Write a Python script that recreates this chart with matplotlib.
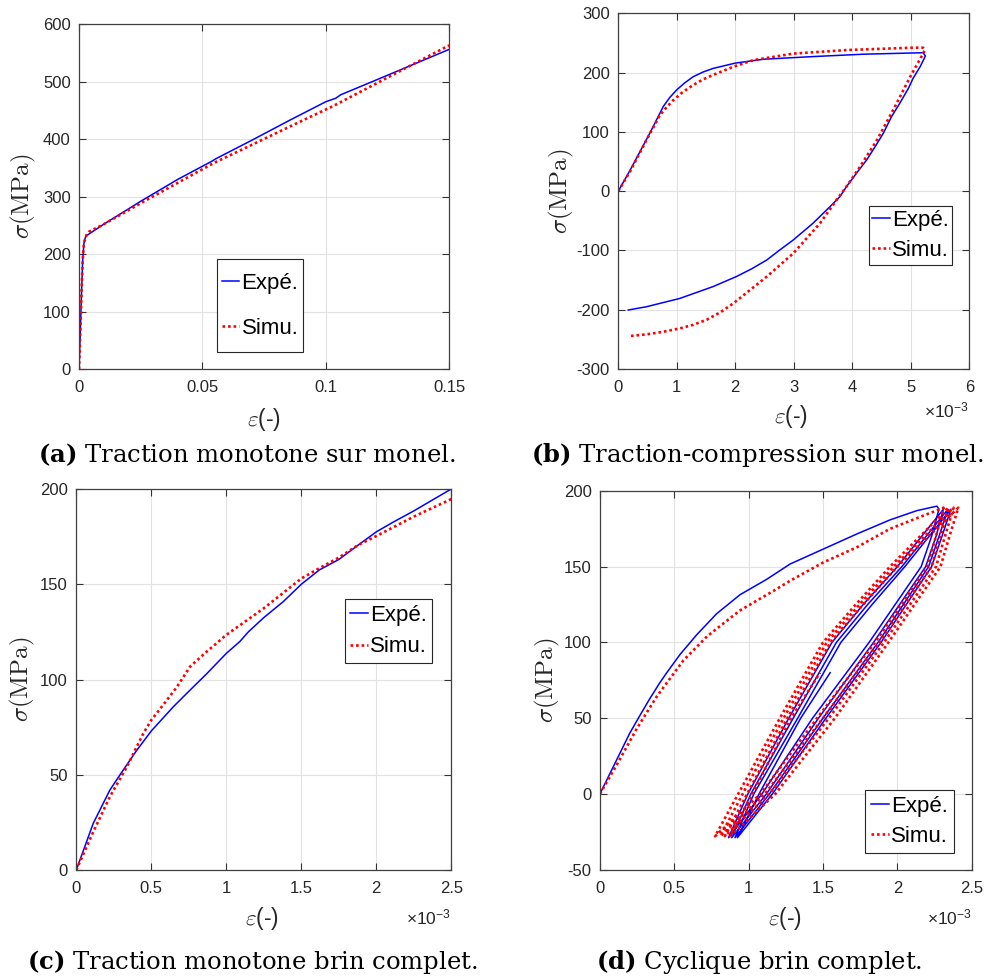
import matplotlib
matplotlib.use('Agg')
import matplotlib.pyplot as plt
from matplotlib.ticker import FuncFormatter
from matplotlib.lines import Line2D
from matplotlib.patches import Rectangle

plt.rcParams['font.family'] = ['Liberation Sans', 'DejaVu Sans']
plt.rcParams['mathtext.fontset'] = 'cm'
plt.rcParams['mathtext.rm'] = 'Liberation Sans'
plt.rcParams['mathtext.it'] = 'Liberation Sans:italic'
plt.rcParams['mathtext.bf'] = 'Liberation Sans:bold'
plt.rcParams['axes.unicode_minus'] = False

# ---------------- data ----------------
# (a) Traction monotone sur monel  (strain -, stress MPa)
a_exp_eps = [0, 0.0005, 0.001, 0.0015, 0.002, 0.0025, 0.003, 0.004, 0.01, 0.025, 0.04,
             0.054, 0.0555, 0.07, 0.085, 0.1, 0.104, 0.106, 0.12, 0.135, 0.15]
a_exp_sig = [0, 60, 130, 190, 219, 228, 232, 235, 252, 292, 330,
             362, 366, 398, 432, 465, 471, 477, 502, 529, 556]
a_sim_eps = [0, 0.0005, 0.001, 0.0015, 0.002, 0.003, 0.004, 0.01, 0.026, 0.04,
             0.0544, 0.07, 0.085, 0.103, 0.12, 0.135, 0.15]
a_sim_sig = [0, 60, 130, 190, 220, 233, 239, 252, 291, 324,
             358, 390, 421, 457.5, 495.7, 529.4, 563]

# (b) Traction-compression sur monel  (strain x1e-3)
b_exp_eps = [0, 0.2, 0.54, 0.77, 0.88, 1.0, 1.14, 1.28, 1.45, 1.62, 2.0, 2.48, 3.33, 4.19,
             5.21, 5.25, 5.16, 5.04, 4.96, 4.81, 4.67, 4.53, 4.39, 4.245, 4.07, 3.9, 3.79,
             3.62, 3.33, 2.99, 2.75, 2.54, 2.28, 2.02, 1.62, 1.05, 0.48, 0.17]
b_exp_sig = [0, 35, 98, 143, 158, 171, 183, 193, 201, 207, 216, 222.5, 227, 231,
             233.5, 228, 210, 190.5, 173.6, 148, 125.6, 97.6, 75, 52.6, 30, 7.6, -9,
             -26, -54, -82.4, -100, -116, -131, -144, -161, -181, -195, -200.5]
b_sim_eps = [0, 0.2, 0.48, 0.71, 0.82, 0.94, 1.1, 1.28, 1.45, 1.62, 1.97, 2.31, 2.99, 3.9,
             5.04, 5.21, 5.24, 5.21, 4.99, 4.70, 4.42, 4.13, 3.9, 3.73, 3.45, 2.99, 2.54,
             1.97, 1.75, 1.51, 1.28, 1.05, 0.75, 0.48, 0.19]
b_sim_sig = [0, 33, 86, 128, 141, 153.5, 167, 179, 188.5, 196, 210, 221, 232, 238,
             242, 242, 238, 232, 193, 137, 86, 41, 7.6, -15, -54, -105, -144,
             -189, -204, -217, -225.5, -231.6, -237.5, -241.6, -244.4]

# (c) Traction monotone brin complet  (strain x1e-3)
c_exp_eps = [0, 0.113, 0.224, 0.3, 0.4, 0.5, 0.647, 0.736, 0.869, 1.0, 1.09, 1.147, 1.25,
             1.38, 1.5, 1.62, 1.75, 1.88, 2.0, 2.11, 2.25, 2.38, 2.5]
c_exp_sig = [0, 24.5, 42, 51, 62.5, 73, 85.7, 92.7, 103, 113.7, 119.9, 125, 132.5,
             140.9, 150, 157.5, 163, 170.6, 177.5, 182.5, 188.5, 194.5, 200]
c_sim_eps = [0, 0.113, 0.224, 0.336, 0.447, 0.5, 0.558, 0.67, 0.758, 0.869, 1.0, 1.25,
             1.5, 1.62, 1.75, 1.88, 2.0, 2.25, 2.5]
c_sim_sig = [0, 20, 38.5, 54, 71.7, 78.7, 84.5, 96, 106.7, 114.6, 123.4, 137.4,
             153, 158.4, 164, 170.6, 175.3, 185.5, 194.7]

# (d) Cyclique brin complet  (strain x1e-3) -- branches in loading order
d_exp_load_eps = [0, 0.09, 0.2, 0.27, 0.336, 0.4, 0.449, 0.538, 0.65, 0.785, 0.942, 1.12,
                  1.279, 1.503, 1.727, 1.95, 2.13, 2.266]
d_exp_load_sig = [0, 18, 40, 52, 63, 73, 80, 92, 105, 119, 131.5, 141.6,
                  151.8, 161.7, 171.6, 180.9, 187, 190]
d_exp_unload_sig = [188, 170, 150, 100, 50, 0, -29]
d_exp_unload_eps = [[2.28, 2.23, 2.16, 1.81, 1.43, 1.09, 0.864],
                    [2.31, 2.26, 2.19, 1.84, 1.47, 1.12, 0.886],
                    [2.34, 2.28, 2.21, 1.87, 1.50, 1.14, 0.908],
                    [2.36, 2.30, 2.23, 1.89, 1.52, 1.16, 0.924]]
d_exp_reload_sig = [-29, 0, 50, 100, 125, 150, 188]
d_exp_reload_eps = [[0.864, 0.995, 1.27, 1.56, 1.77, 2.0, 2.31],
                    [0.886, 1.015, 1.30, 1.59, 1.80, 2.03, 2.34],
                    [0.908, 1.035, 1.33, 1.62, 1.83, 2.05, 2.36]]
d_exp_last_sig = [-29, 0, 50, 80]
d_exp_last_eps = [0.924, 1.07, 1.35, 1.548]

d_sim_load_eps = [0, 0.112, 0.247, 0.38, 0.56, 0.72, 0.94, 1.166, 1.279, 1.503, 1.727,
                  1.95, 2.176, 2.31]
d_sim_load_sig = [0, 19, 43, 64, 88, 104, 121, 134, 140.7, 152.9, 162.8,
                  175, 183.8, 188.8]
d_sim_unload_sig = [189, 170, 150, 100, 50, 0, -28]
d_sim_unload_eps = [[2.31, 2.26, 2.20, 1.85, 1.46, 1.08, 0.774],
                    [2.344, 2.29, 2.23, 1.88, 1.50, 1.11, 0.81],
                    [2.378, 2.32, 2.26, 1.91, 1.54, 1.14, 0.84],
                    [2.41, 2.35, 2.29, 1.94, 1.58, 1.18, 0.875]]
d_sim_reload_sig = [-28, 0, 50, 100, 125, 150, 189]
d_sim_reload_eps = [[0.774, 0.93, 1.21, 1.50, 1.72, 1.95, 2.344],
                    [0.81, 0.96, 1.235, 1.525, 1.745, 1.975, 2.378],
                    [0.84, 0.99, 1.26, 1.55, 1.77, 2.0, 2.41]]
d_sim_last_sig = [-28, 0, 50, 80]
d_sim_last_eps = [0.875, 1.025, 1.285, 1.48]

legend_labels = ['Expé.', 'Simu.']
captions = [('a', 'Traction monotone sur monel.'),
            ('b', 'Traction-compression sur monel.'),
            ('c', 'Traction monotone brin complet.'),
            ('d', 'Cyclique brin complet.')]


def build_path(load_e, load_s, un_e, un_s, re_e, re_s, last_e, last_s):
    xs, ys = list(load_e), list(load_s)
    for i in range(len(un_e)):
        xs += un_e[i]; ys += un_s
        if i < len(re_e):
            xs += re_e[i]; ys += re_s
    xs += last_e; ys += last_s
    return xs, ys


d_exp_eps, d_exp_sig = build_path(d_exp_load_eps, d_exp_load_sig, d_exp_unload_eps,
                                  d_exp_unload_sig, d_exp_reload_eps, d_exp_reload_sig,
                                  d_exp_last_eps, d_exp_last_sig)
d_sim_eps, d_sim_sig = build_path(d_sim_load_eps, d_sim_load_sig, d_sim_unload_eps,
                                  d_sim_unload_sig, d_sim_reload_eps, d_sim_reload_sig,
                                  d_sim_last_eps, d_sim_last_sig)

# ---------------- figure ----------------
W, H = 986, 980
fig = plt.figure(figsize=(W / 100, H / 100), dpi=100)
TXT = '#262626'


def fx(px):
    return px / W


def fy(py):
    return 1 - py / H


def make_axes(l, t, r, b):
    return fig.add_axes([fx(l), fy(b), (r - l) / W, (b - t) / H])


BLUE = dict(color='#0000ff', lw=1.1, solid_joinstyle='round')
RED = dict(color='#ff0000', lw=1.9, ls=(0, (1, 1.1)), dash_capstyle='butt')


def style(ax, xlim, xticks, ylim, yticks):
    ax.set_xlim(xlim)
    ax.set_ylim(ylim)
    ax.set_xticks(xticks)
    ax.set_yticks(yticks)
    fmt = FuncFormatter(lambda v, p: f'{v:g}')
    ax.xaxis.set_major_formatter(fmt)
    ax.yaxis.set_major_formatter(fmt)
    ax.tick_params(direction='in', top=True, right=True, length=5, width=0.8,
                   color='#333333', labelcolor=TXT, labelsize=12)
    ax.tick_params(axis='x', pad=8)
    ax.tick_params(axis='y', pad=6)
    for s in ax.spines.values():
        s.set_color('#404040')
        s.set_linewidth(0.9)
    ax.grid(True, color='#e2e2e2', lw=0.8)
    ax.set_axisbelow(True)


def labels(ax, xl, yl):
    ax.set_xlabel(r'$\varepsilon$(-)', fontsize=16.5, color=TXT, va='center')
    ax.xaxis.set_label_coords(fx(xl[0]), fy(xl[1]), transform=fig.transFigure)
    ax.set_ylabel(r'$\sigma(\mathrm{MPa})$', fontsize=18, color=TXT, va='center')
    ax.yaxis.set_label_coords(fx(yl[0]), fy(yl[1]), transform=fig.transFigure)


def legend(ax, l, t, r, b, spacing):
    rect = Rectangle((fx(l), fy(b)), (r - l) / W, (b - t) / H,
                     transform=fig.transFigure, facecolor='white',
                     edgecolor='#262626', lw=0.8, zorder=4, clip_on=False)
    ax.add_artist(rect)
    handles = [Line2D([], [], **BLUE), Line2D([], [], **RED)]
    leg = ax.legend(handles, legend_labels, loc='center',
                    bbox_to_anchor=(fx((l + r) / 2), fy((t + b) / 2)),
                    bbox_transform=fig.transFigure,
                    fontsize=16, frameon=False, borderaxespad=0, borderpad=0,
                    labelspacing=spacing, handlelength=0.8, handletextpad=0.1)
    leg.set_zorder(6)


def exponent(ax, y):
    pos = ax.get_position()
    fig.text(pos.x1, fy(y), r'$\times10^{-3}$', ha='right', va='center',
             fontsize=12.5, color=TXT, math_fontfamily='custom')


def caption(x, y, letter, text):
    fig.text(fx(x), fy(y), r'$\mathbf{(' + letter + r')}$ ' + text, ha='center',
             va='center', fontsize=17.5, family='DejaVu Serif',
             math_fontfamily='dejavuserif', color='black')


# (a)
axa = make_axes(79, 24, 449.3, 369.3)
axa.plot(a_exp_eps, a_exp_sig, **BLUE)
axa.plot(a_sim_eps, a_sim_sig, **RED)
style(axa, (0, 0.15), [0, 0.05, 0.1, 0.15], (0, 600), range(0, 601, 100))
labels(axa, (264, 419), (23, 196.5))
legend(axa, 217, 259, 303, 352, 1.08)

# (b)
axb = make_axes(618.3, 13.3, 969.3, 369)
axb.plot(b_exp_eps, b_exp_sig, **BLUE)
axb.plot(b_sim_eps, b_sim_sig, **RED)
style(axb, (0, 6), range(0, 7), (-300, 300), range(-300, 301, 100))
labels(axb, (791, 416), (561, 191))
legend(axb, 869, 206, 952, 265, 0.4)
exponent(axb, 410)

# (c)
axc = make_axes(76.3, 489, 451.3, 870)
axc.plot(c_exp_eps, c_exp_sig, **BLUE)
axc.plot(c_sim_eps, c_sim_sig, **RED)
style(axc, (0, 2.5), [0, 0.5, 1, 1.5, 2, 2.5], (0, 200), range(0, 201, 50))
labels(axc, (262, 918), (22, 679.5))
legend(axc, 345, 599, 432, 663, 0.48)
exponent(axc, 917)

# (d)
axd = make_axes(600, 491, 971.7, 869.5)
axd.plot(d_exp_eps, d_exp_sig, **BLUE)
axd.plot(d_sim_eps, d_sim_sig, **RED)
style(axd, (0, 2.5), [0, 0.5, 1, 1.5, 2, 2.5], (-50, 200), range(-50, 201, 50))
labels(axd, (785, 918), (547, 680))
legend(axd, 865, 790, 954, 853, 0.4)
exponent(axd, 917)

caption(247, 455, *captions[0])
caption(757, 455, *captions[1])
caption(252, 962, *captions[2])
caption(759, 962, *captions[3])

fig.savefig('out.png', dpi=100)
